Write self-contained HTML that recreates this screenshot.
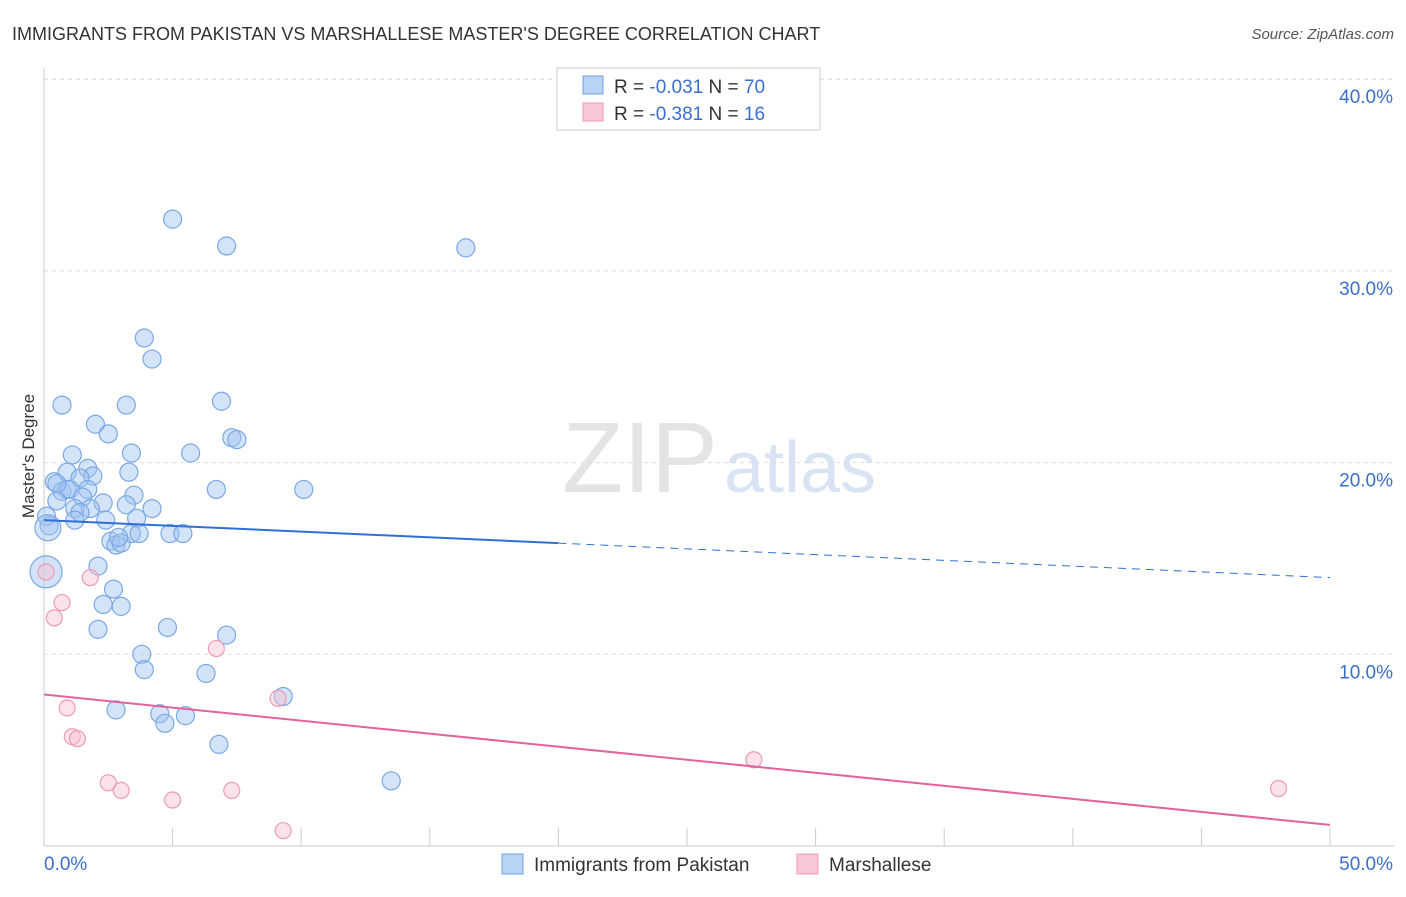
<!DOCTYPE html>
<html><head><meta charset="utf-8"><style>
body{margin:0;background:#fff;font-family:"Liberation Sans",sans-serif;}
svg text{font-family:"Liberation Sans",sans-serif;}
</style></head><body>
<svg width="1406" height="892">
<text x="12" y="40" font-size="18" fill="#333">IMMIGRANTS FROM PAKISTAN VS MARSHALLESE MASTER'S DEGREE CORRELATION CHART</text>
<text x="1394" y="39" font-size="15" fill="#555" font-style="italic" text-anchor="end">Source: ZipAtlas.com</text>
<text x="640" y="492" font-size="100" fill="#e4e4e4" font-family="Liberation Serif" text-anchor="middle">ZIP</text>
<text x="800" y="492" font-size="72" fill="#d8e4f4" text-anchor="middle">atlas</text>
<g id="grid"></g>
<g id="axes"></g>
<text transform="translate(34,456) rotate(-90)" font-size="17" fill="#333" text-anchor="middle">Master's Degree</text>
<g id="marks"></g>
<g>
<rect x="557" y="68" width="263" height="62" fill="#fff" stroke="#ccc"/>
<rect x="583" y="76" width="20" height="18" fill="#b8d3f5" stroke="#6fa0e0"/>
<text x="614" y="93" font-size="19" fill="#333">R = <tspan fill="#3a6fd0">-0.031</tspan>   N = <tspan fill="#3a6fd0">70</tspan></text>
<rect x="583" y="103" width="20" height="18" fill="#f9c6d6" stroke="#ec9ab4"/>
<text x="614" y="120" font-size="19" fill="#333">R = <tspan fill="#3a6fd0">-0.381</tspan>   N =  <tspan fill="#3a6fd0">16</tspan></text>
</g>
<g>
<rect x="502" y="854" width="21" height="20" fill="#b8d3f5" stroke="#6fa0e0"/>
<text x="534" y="871" font-size="19" fill="#333">Immigrants from Pakistan</text>
<rect x="797" y="854" width="21" height="20" fill="#f9c6d6" stroke="#ec9ab4"/>
<text x="829" y="871" font-size="19" fill="#333">Marshallese</text>
</g>
</svg>
<script>
const xTicks=[0,5,10,15,20,25,30,35,40,45,50];
const yTicks=[10,20,30,40];
const blueX=[5.0,7.1,16.4,3.9,4.2,0.7,3.2,6.9,2.0,2.5,7.3,7.5,1.1,3.4,5.7,0.9,1.7,3.3,1.9,1.4,0.4,0.7,0.9,1.0,1.7,6.7,10.1,3.5,0.5,1.5,2.3,3.2,1.2,1.8,1.4,4.2,0.1,1.2,2.4,3.6,0.2,3.4,3.7,4.9,5.4,2.6,2.8,3.0,2.9,2.1,2.7,2.3,3.0,2.1,4.8,7.1,3.8,3.9,6.3,9.3,2.8,4.5,5.5,4.7,6.8,13.5,0.15,0.08,0.5];
const blueY=[32.7,31.3,31.2,26.5,25.4,23.0,23.0,23.2,22.0,21.5,21.3,21.2,20.4,20.5,20.5,19.5,19.7,19.5,19.3,19.2,19.0,18.5,18.6,18.6,18.6,18.6,18.6,18.3,18.0,18.2,17.9,17.8,17.6,17.6,17.4,17.6,17.2,17.0,17.0,17.1,16.7,16.3,16.3,16.3,16.3,15.9,15.7,15.8,16.1,14.6,13.4,12.6,12.5,11.3,11.4,11.0,10.0,9.2,9.0,7.8,7.1,6.9,6.8,6.4,5.3,3.4,16.6,14.3,18.9];
const blueR=[9,9,9,9,9,9,9,9,9,9,9,9,9,9,9,9,9,9,9,9,9,9,9,9,9,9,9,9,9,9,9,9,9,9,9,9,9,9,9,9,9,9,9,9,9,9,9,9,9,9,9,9,9,9,9,9,9,9,9,9,9,9,9,9,9,9,13,16,9];
const pinkX=[0.08,1.8,0.7,0.4,6.7,9.1,0.9,1.1,1.3,2.5,3.0,5.0,7.3,9.3,27.6,48.0];
const pinkY=[14.3,14.0,12.7,11.9,10.3,7.7,7.2,5.7,5.6,3.3,2.9,2.4,2.9,0.8,4.5,3.0];
const blueTrend=[17.0,15.8,14.0]; // at x=0, 20, 50
const pinkTrend=[7.9,1.1]; // at x=0, 50
const X=v=>44+v*25.72, Y=v=>846-v*19.17;
const NS="http://www.w3.org/2000/svg";
function mk(p,t,a){const e=document.createElementNS(NS,t);for(const k in a)e.setAttribute(k,a[k]);p.appendChild(e);return e;}
const grid=document.getElementById('grid'),axes=document.getElementById('axes'),marks=document.getElementById('marks');
yTicks.forEach(t=>{const l=mk(grid,'line',{x1:44,x2:1394,y1:Y(t),y2:Y(t),stroke:'#ddd','stroke-dasharray':'4,4'});


const tx=mk(axes,'text',{x:1393,y:Y(t)+24,'font-size':19,fill:'#3a6fd0','text-anchor':'end'});tx.textContent=t.toFixed(1)+'%';

});
const tl=mk(grid,'line',{x1:44,x2:1394,y1:Y(40),y2:Y(40),stroke:'#ddd','stroke-dasharray':'4,4'});
mk(axes,'line',{x1:44,x2:44,y1:68,y2:846,stroke:'#ccc'});
mk(axes,'line',{x1:44,x2:1394,y1:846,y2:846,stroke:'#ccc'});
xTicks.forEach(t=>{const l=mk(axes,'line',{x1:X(t),x2:X(t),y1:828,y2:846,stroke:'#ccc'});

});
[[0,44,'start'],[50,1393,'end']].forEach(([t,x,a])=>{const tx=mk(axes,'text',{x:x,y:870,'font-size':19,fill:'#3a6fd0','text-anchor':a});tx.textContent=t.toFixed(1)+'%';

});
blueX.forEach((v,i)=>{const c=mk(marks,'circle',{cx:X(v),cy:Y(blueY[i]),r:blueR[i],fill:'rgba(160,196,240,0.45)',stroke:'#7aa8e6','stroke-width':1.2});

});
pinkX.forEach((v,i)=>{const c=mk(marks,'circle',{cx:X(v),cy:Y(pinkY[i]),r:8,fill:'rgba(248,190,210,0.45)',stroke:'#ee9ab6','stroke-width':1.2});

});
const b1=mk(marks,'line',{x1:X(0),y1:Y(blueTrend[0]),x2:X(20),y2:Y(blueTrend[1]),stroke:'#2f6fd6','stroke-width':2});


const b2=mk(marks,'line',{x1:X(20),y1:Y(blueTrend[1]),x2:X(50),y2:Y(blueTrend[2]),stroke:'#2f6fd6','stroke-width':1,'stroke-dasharray':'8,6'});


const p1=mk(marks,'line',{x1:X(0),y1:Y(pinkTrend[0]),x2:X(50),y2:Y(pinkTrend[1]),stroke:'#e5639a','stroke-width':2});


</script>
</body></html>
